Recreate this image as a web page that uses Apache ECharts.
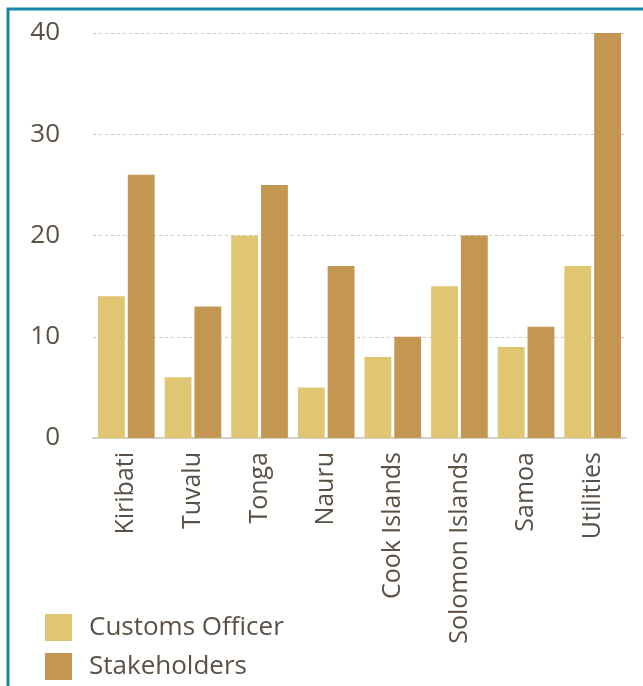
<!DOCTYPE html>
<html>
<head>
<meta charset="utf-8">
<script src="https://cdn.jsdelivr.net/npm/echarts@6/dist/echarts.min.js"></script>
<style>
  html, body { margin: 0; padding: 0; background: #fff; }
  #chart { width: 643px; height: 686px; }
</style>
</head>
<body>
<div id="chart"></div>
<script>
var myChart = echarts.init(document.getElementById('chart'));

var categories = ['Kiribati', 'Tuvalu', 'Tonga', 'Nauru', 'Cook Islands', 'Solomon Islands', 'Samoa', 'Utilities'];
var seriesNames = ['Customs Officer', 'Stakeholders'];
var customsOfficer = [14, 6, 20, 5, 8, 15, 9, 17];
var stakeholders = [26, 13, 25, 17, 10, 20, 11, 40];
var yTicks = [0, 10, 20, 30, 40];

var textColor = '#5b5045';
var font = 'Open Sans';

var option = {
    color: ['#e0c572', '#c39652'],
    animation: false,
    graphic: [{
        type: 'rect',
        shape: { x: 8, y: 9, width: 700, height: 700 },
        style: { fill: 'none', stroke: '#1a86a6', lineWidth: 3 },
        z: 100
    }],
    legend: {
        orient: 'vertical',
        left: 45,
        top: 613,
        padding: 0,
        itemWidth: 27,
        itemHeight: 27,
        itemGap: 10,
        icon: 'rect',
        textStyle: { fontSize: 26, lineHeight: 27, color: textColor, fontFamily: font, padding: [2, 0, 0, 12] },
        data: seriesNames
    },
    grid: {
        left: 93,
        right: 17,
        top: 33,
        bottom: 248
    },
    xAxis: {
        type: 'category',
        data: categories,
        axisLine: { lineStyle: { color: '#d6d0ca', width: 2 } },
        axisTick: { show: false },
        axisLabel: {
            rotate: 90,
            interval: 0,
            margin: 14,
            fontSize: 25,
            color: textColor,
            fontFamily: font
        }
    },
    yAxis: {
        type: 'value',
        min: yTicks[0],
        max: yTicks[yTicks.length - 1],
        interval: 10,
        axisLine: { show: false },
        axisTick: { show: false },
        axisLabel: { fontSize: 26, color: textColor, fontFamily: font, margin: 33 },
        splitLine: { lineStyle: { color: '#cfc9c2', type: [3, 3], width: 1 } }
    },
    series: []
};

var values = [customsOfficer, stakeholders];
for (var i = 0; i < seriesNames.length; i++) {
    option.series.push({
        name: seriesNames[i],
        type: 'bar',
        barGap: '11%',
        barCategoryGap: '15%',
        data: values[i]
    });
}

myChart.setOption(option);
</script>
</body>
</html>
